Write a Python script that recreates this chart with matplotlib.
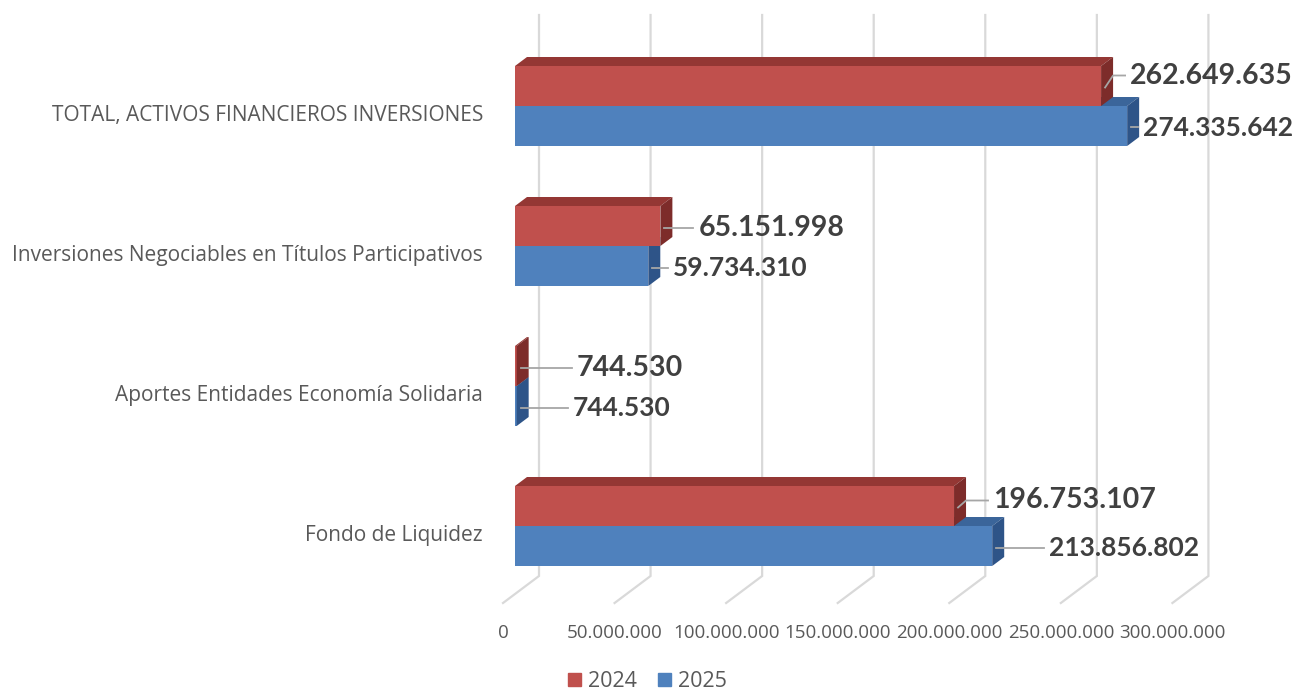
import numpy as np
import matplotlib.pyplot as plt
from matplotlib.patches import Polygon, Patch

# data (bottom -> top)
categories = ['Fondo de Liquidez',
              'Aportes Entidades Economía Solidaria',
              'Inversiones Negociables en Títulos Participativos',
              'TOTAL, ACTIVOS FINANCIEROS INVERSIONES']
vals_2024 = [196753107, 744530, 65151998, 262649635]
vals_2025 = [213856802, 744530, 59734310, 274335642]
ticks = [0, 50e6, 100e6, 150e6, 200e6, 250e6, 300e6]
tick_labels = ['0', '50.000.000', '100.000.000', '150.000.000',
               '200.000.000', '250.000.000', '300.000.000']

# label placement (px): gap from bar end, vertical shift (up +)
gap_2024 = [39, 60, 38, 29]
gap_2025 = [57, 56, 25, 16]
lift_2024 = [7, 0, 0, 12]
lift_2025 = [0, 0, 0, 0]

# pseudo-3d geometry, in pixels
K = 111.57 / 50e6      # px per unit value
ROW = 140.0            # px per category
S = 0.75               # vertical shift per px of depth
X0, Y0 = 503, 535      # front-floor origin / first row centre (px)
H = 40 / ROW           # bar thickness

red, red_top, red_side = '#C0504D', '#943734', '#7D2C2A'
blue, blue_top, blue_side = '#4F81BD', '#3B659A', '#2E5488'

fig = plt.figure(figsize=(12.95, 6.96), dpi=100)
ax = fig.add_axes([0, 0, 1, 1])
ax.set_xlim(-X0 / K, (1295 - X0) / K)
ax.set_ylim((Y0 - 696) / ROW, Y0 / ROW)
ax.axis('off')


def P(v, c, d):
    return (v + d / K, c + d * S / ROW)


# back wall + floor gridlines
c_bot = (Y0 - 603) / ROW
c_top = (Y0 - 15) / ROW - 36 * S / ROW
for t, lab in zip(ticks, tick_labels):
    pts = [P(t, c_top, 36), P(t, c_bot, 36), P(t, c_bot, 0)]
    ax.plot([p[0] for p in pts], [p[1] for p in pts], color='#d9d9d9',
            lw=1.6, zorder=1, solid_joinstyle='miter')
    ax.text(t, (Y0 - 633) / ROW, lab, ha='center', va='center',
            fontsize=13.5, color='#595959', family='Open Sans')


def bar3d(v, c0, front, top, side):
    c1 = c0 + H
    x, y = P(0, c0, 12)
    ax.barh(y + H / 2, v, left=x, height=H, color=front, zorder=3)
    ax.add_patch(Polygon([P(0, c1, 12), P(v, c1, 12), P(v, c1, 24), P(0, c1, 24)],
                         closed=True, color=top, zorder=3, lw=0))
    ax.add_patch(Polygon([P(v, c0, 12), P(v, c1, 12), P(v, c1, 24), P(v, c0, 24)],
                         closed=True, color=side, zorder=3, lw=0))


def fmt(v):
    return f'{v:,}'.replace(',', '.')


def value_label(v, c0, gap, lift, size):
    xs, ys = P(v, c0 + H / 2, 16)
    ys -= 6 * S / ROW
    yl = ys + lift / ROW
    xl = v + (12 + gap) / K
    xk = xs + (8 / K if lift else 0)
    ax.plot([xs, xk, xl - 5 / K], [ys, yl, yl],
            color='#a6a6a6', lw=1.3, zorder=4)
    ax.text(xl, yl, fmt(v), ha='left', va='center',
            fontsize=size, fontweight='bold', color='#404040', family='Lato', zorder=5)


for i, cat in enumerate(categories):
    bar3d(vals_2025[i], i - H, blue, blue_top, blue_side)
    bar3d(vals_2024[i], i, red, red_top, red_side)
    value_label(vals_2024[i], i, gap_2024[i], lift_2024[i], 20.5)
    value_label(vals_2025[i], i - H, gap_2025[i], lift_2025[i], 19)
    ax.text((483 - X0) / K, i, cat, ha='right', va='center',
            fontsize=15, color='#595959', family='Open Sans')

handles = [Patch(color=red, label='2024'), Patch(color=blue, label='2025')]
fig.legend(handles=handles, loc='lower center', ncol=2, frameon=False,
           bbox_to_anchor=(0.5, -0.022), handlelength=0.6, handleheight=0.6,
           handletextpad=0.3, columnspacing=1.0,
           prop={'family': 'Open Sans', 'size': 15.5}, labelcolor='#595959')

fig.savefig('out.png', dpi=100)
